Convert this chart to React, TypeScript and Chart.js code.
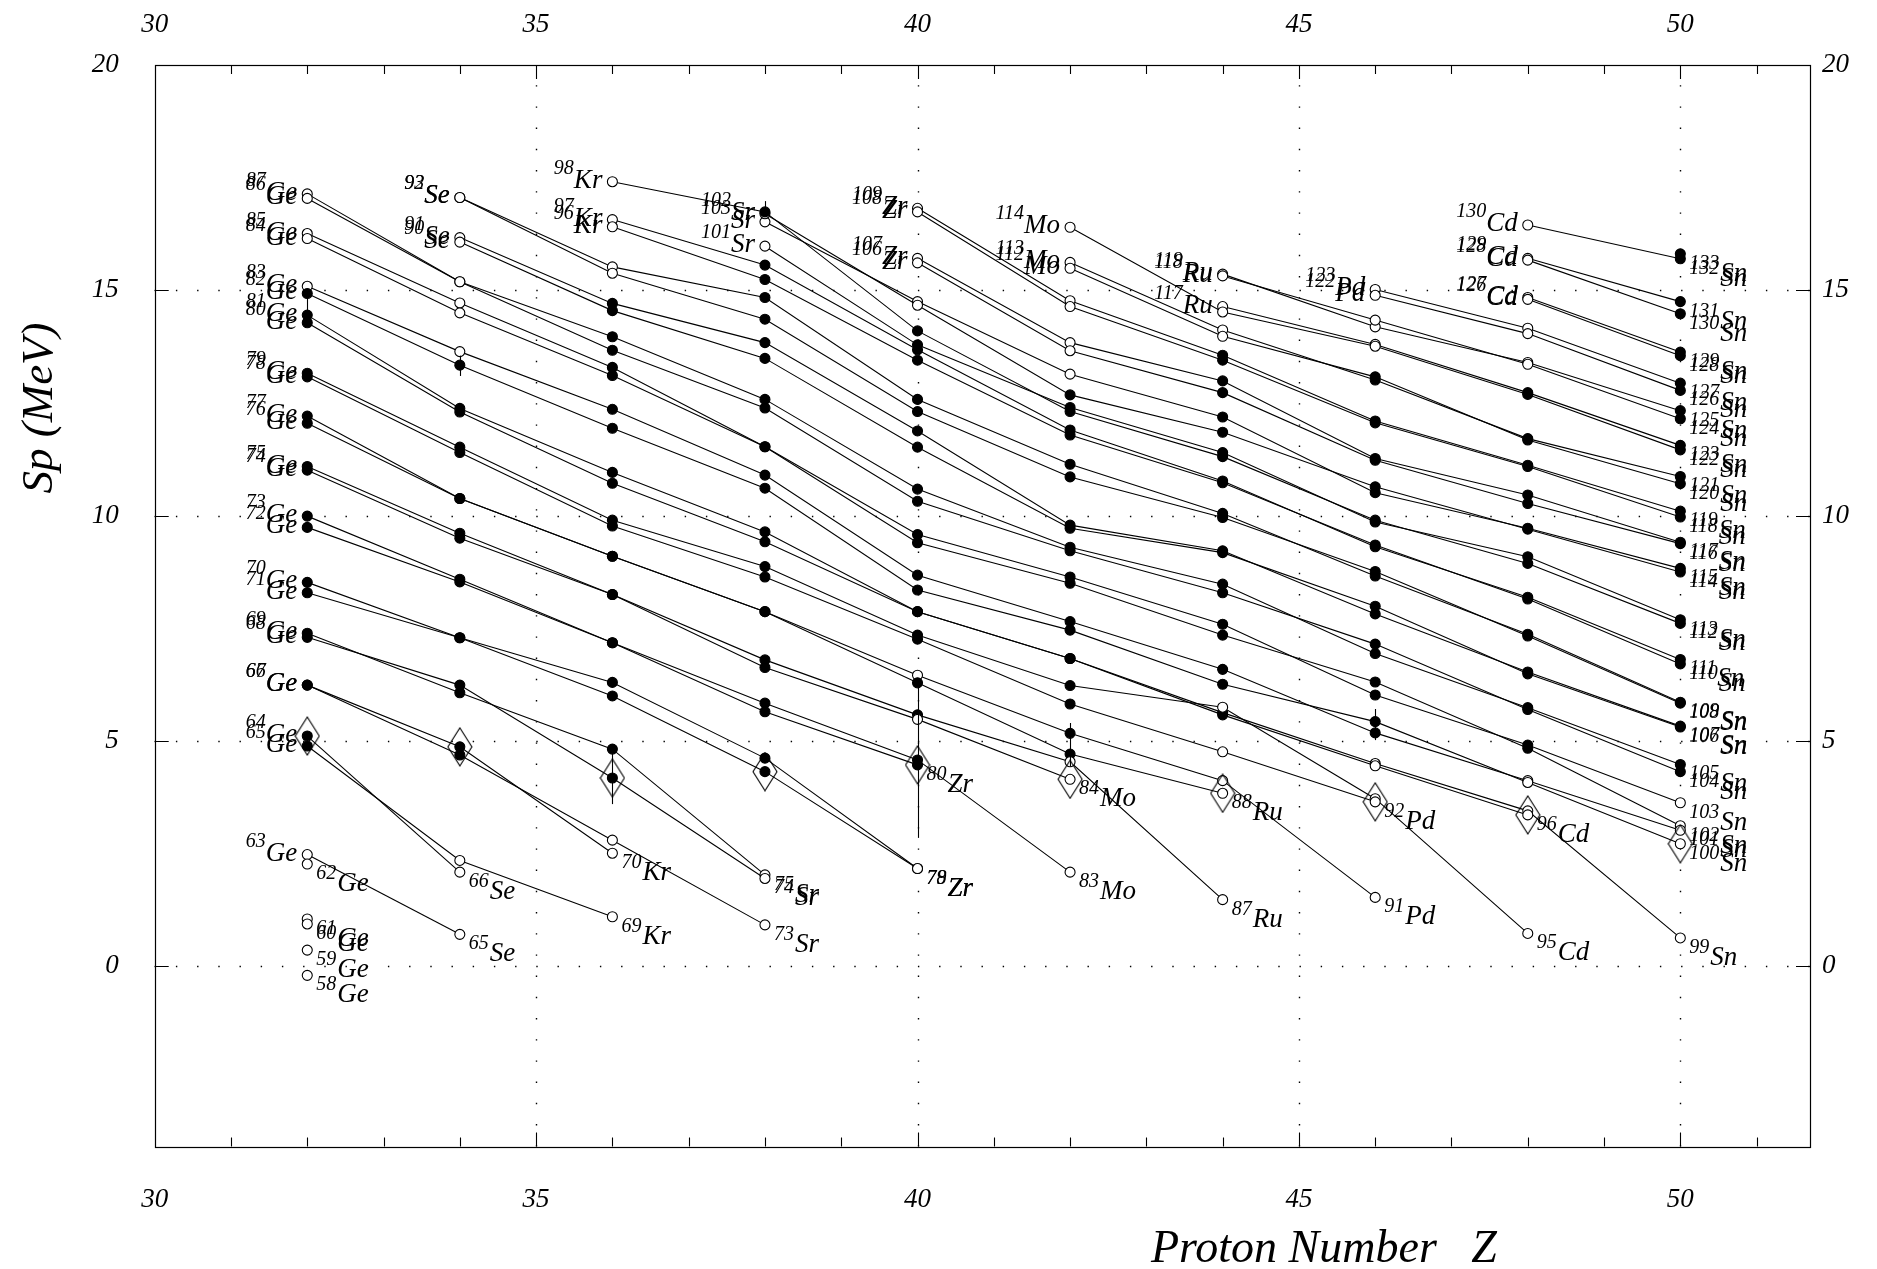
import React, { useEffect, useRef } from 'react';
import { Chart, registerables } from 'chart.js';
Chart.register(...registerables);

const W = 1877;
const H = 1269;

// ---------------- data ----------------
const Z_LIST = [32, 34, 36, 38, 40, 42, 44, 46, 48, 50];
const SYMBOLS = ['Ge', 'Se', 'Kr', 'Sr', 'Zr', 'Mo', 'Ru', 'Pd', 'Cd', 'Sn'];
const A_FIRST = [58, 65, 69, 73, 78, 83, 87, 91, 95, 99];

const SP_GE = [-0.20, 0.36, 0.94, 1.05, 2.27, 2.48, 5.11, 4.89, 6.24, 6.24, 7.30, 7.39, 8.52, 8.29, 9.74, 9.99, 11.01, 11.09, 12.05, 12.21, 13.08, 13.16, 14.28, 14.45, 14.93, 15.09, 16.15, 16.26, 17.04, 17.14];
const SP_SE = [0.71, 2.09, 2.35, 4.87, 4.69, 6.24, 6.07, 7.29, 7.29, 8.53, 8.59, 9.50, 9.61, 10.38, 10.38, 11.40, 11.52, 12.30, 12.38, 13.34, 13.64, 14.50, 14.72, 15.19, 15.19, 16.07, 16.17, 17.06, 17.06];
const SP_KR = [1.10, 2.51, 2.80, 4.18, 4.82, 6.00, 6.30, 7.18, 7.18, 8.25, 8.25, 9.10, 9.10, 9.77, 9.90, 10.72, 10.96, 11.94, 12.36, 13.11, 13.29, 13.67, 13.97, 14.55, 14.71, 15.38, 15.52, 16.41, 16.57, 17.41];
const SP_SR = [0.92, 1.95, 2.03, 4.32, 4.62, 5.65, 5.84, 6.63, 6.80, 7.87, 7.87, 8.64, 8.87, 9.42, 9.64, 10.61, 10.90, 11.53, 11.53, 12.39, 12.58, 13.49, 13.84, 14.36, 14.84, 15.24, 15.56, 16.74, 15.98, 16.70, 16.52];
const SP_ZR = [2.17, 2.17, 4.47, 4.58, 5.48, 5.58, 6.29, 6.46, 7.26, 7.35, 7.87, 7.87, 8.35, 8.68, 9.40, 9.58, 10.32, 10.59, 11.52, 11.88, 12.31, 12.58, 13.45, 13.68, 14.10, 13.79, 14.67, 14.75, 15.61, 15.71, 16.74, 16.82];
const SP_MO = [2.09, 4.15, 4.54, 4.71, 5.17, 5.82, 6.23, 6.83, 6.83, 7.46, 7.65, 8.50, 8.64, 9.22, 9.30, 9.72, 9.79, 10.86, 11.14, 11.79, 11.90, 12.31, 12.40, 12.68, 13.14, 13.66, 13.84, 14.64, 14.77, 15.49, 15.62, 16.40];
const SP_RU = [1.48, 3.84, 4.12, 4.76, 5.75, 5.58, 5.63, 6.26, 6.59, 7.35, 7.59, 8.29, 8.48, 9.18, 9.22, 9.96, 10.05, 10.73, 10.77, 11.31, 11.40, 11.85, 12.19, 12.73, 12.99, 13.45, 13.56, 13.98, 14.12, 14.52, 14.64, 15.32, 15.36];
const SP_PD = [1.53, 3.65, 3.72, 4.45, 4.50, 5.43, 5.18, 6.31, 6.02, 7.15, 6.94, 7.99, 7.82, 8.76, 8.66, 9.35, 9.31, 9.90, 9.86, 10.64, 10.51, 11.23, 11.27, 12.06, 12.10, 13.08, 13.01, 13.76, 13.80, 14.34, 14.19, 14.89, 15.02];
const SP_CD = [0.73, 3.36, 3.45, 4.08, 4.12, 4.84, 4.91, 5.70, 5.74, 6.49, 6.53, 7.33, 7.37, 8.15, 8.19, 8.94, 9.09, 9.70, 9.72, 10.27, 10.46, 11.09, 11.12, 11.68, 11.71, 12.69, 12.73, 13.36, 13.40, 14.04, 14.16, 14.80, 14.84, 15.67, 15.71, 16.45];
const SP_SN = [0.63, 2.72, 3.02, 3.12, 3.63, 4.32, 4.48, 5.31, 5.33, 5.84, 5.86, 6.71, 6.81, 7.61, 7.69, 8.75, 8.83, 9.38, 9.41, 9.97, 10.10, 10.71, 10.87, 11.46, 11.56, 12.15, 12.33, 12.78, 12.94, 13.55, 13.63, 14.48, 14.75, 15.70, 15.81];
const SP_ALL = [SP_GE, SP_SE, SP_KR, SP_SR, SP_ZR, SP_MO, SP_RU, SP_PD, SP_CD, SP_SN];

// mass numbers drawn with open circles (others filled)
const OPEN_GE = [58, 59, 60, 61, 62, 63, 83, 84, 85, 86, 87];
const OPEN_SE = [65, 66, 67, 85, 86, 87, 88, 89, 90, 91, 92, 93];
const OPEN_KR = [69, 70, 71, 94, 95, 96, 97, 98];
const OPEN_SR = [73, 74, 75, 101, 102, 103];
const OPEN_ZR = [78, 79, 82, 85, 104, 105, 106, 107, 108, 109];
const OPEN_MO = [83, 84, 85, 107, 108, 109, 110, 111, 112, 113, 114];
const OPEN_RU = [87, 88, 89, 90, 91, 114, 115, 116, 117, 118, 119];
const OPEN_PD = [91, 92, 93, 94, 95, 118, 119, 120, 121, 122, 123];
const OPEN_CD = [95, 96, 97, 98, 99, 122, 123, 124, 125, 126, 127, 128, 129, 130];
const OPEN_SN = [99, 100, 101, 102, 103];
const OPEN_ALL = [OPEN_GE, OPEN_SE, OPEN_KR, OPEN_SR, OPEN_ZR, OPEN_MO, OPEN_RU, OPEN_PD, OPEN_CD, OPEN_SN];

// nuclide labels: left of the point / right-below the point
const LEFT_LABELS = [
  [63, 64, 65, 66, 67, 68, 69, 70, 71, 72, 73, 74, 75, 76, 77, 78, 79, 80, 81, 82, 83, 84, 85, 86, 87],
  [90, 91, 92, 93],
  [96, 97, 98],
  [101, 102, 103],
  [106, 107, 108, 109],
  [112, 113, 114],
  [117, 118, 119],
  [122, 123],
  [126, 127, 128, 129, 130],
  [],
];
const RIGHT_LABELS = [
  [58, 59, 60, 61, 62],
  [65, 66],
  [69, 70],
  [73, 74, 75],
  [78, 79, 80],
  [83, 84],
  [87, 88],
  [91, 92],
  [95, 96],
  [99, 100, 101, 102, 103, 104, 105, 106, 107, 108, 109, 110, 111, 112, 113, 114, 115, 116, 117, 118, 119, 120, 121, 122, 123, 124, 125, 126, 127, 128, 129, 130, 131, 132, 133],
];

// error bars: [Z, low, high]
const ERROR_BARS = [
  [32, 14.45, 14.93],
  [34, 13.10, 13.55],
  [36, 3.60, 4.82],
  [38, 16.74, 16.98],
  [40, 2.85, 6.30],
  [42, 4.43, 5.40],
  [46, 5.02, 5.71],
];

const X_TICK_LABELS = [30, 35, 40, 45, 50];
const Y_TICK_LABELS = [0, 5, 10, 15, 20];
const X_MIN = 30;
const X_MAX = 51.7;
const Y_MIN = -4;
const Y_MAX = 20;

// ---------------- styling ----------------
const SERIF = '"Liberation Serif", "DejaVu Serif", serif';
const NUM_FONT = `italic 20px ${SERIF}`;
const SYM_FONT = `italic 27px ${SERIF}`;
const TICK_FONT = `italic 27px ${SERIF}`;
const YTITLE_FONT = `italic 45px ${SERIF}`;
const XTITLE_FONT = `italic 46px ${SERIF}`;

function makeDiamond(): HTMLCanvasElement {
  const c = document.createElement('canvas');
  const w = 26, h = 40;
  c.width = w; c.height = h;
  const g = c.getContext('2d')!;
  g.strokeStyle = '#000';
  g.lineWidth = 1.1;
  g.beginPath();
  g.moveTo(w / 2, 1);
  g.lineTo(w - 1, h / 2);
  g.lineTo(w / 2, h - 1);
  g.lineTo(1, h / 2);
  g.closePath();
  g.stroke();
  return c;
}

function spOf(i: number, A: number): number | null {
  const idx = A - A_FIRST[i];
  if (idx < 0 || idx >= SP_ALL[i].length) return null;
  return SP_ALL[i][idx];
}

function buildDatasets() {
  let nMin = 1e9, nMax = -1e9;
  Z_LIST.forEach((z, i) => {
    nMin = Math.min(nMin, A_FIRST[i] - z);
    nMax = Math.max(nMax, A_FIRST[i] + SP_ALL[i].length - 1 - z);
  });
  const sets: any[] = [];
  for (let N = nMin; N <= nMax; N++) {
    const pts: any[] = [];
    Z_LIST.forEach((z, i) => {
      const A = z + N;
      const sp = spOf(i, A);
      if (sp !== null) pts.push({ x: z, y: sp, open: OPEN_ALL[i].includes(A) });
    });
    if (!pts.length) continue;
    sets.push({
      type: 'line',
      data: pts,
      borderColor: '#000',
      borderWidth: 1.1,
      pointRadius: 5,
      pointHoverRadius: 5,
      pointBorderWidth: 1.1,
      pointBorderColor: '#000',
      pointBackgroundColor: (ctx: any) => (ctx.raw && ctx.raw.open ? '#fff' : '#000'),
      fill: false,
      tension: 0,
      order: N,
    });
  }
  const diamondPts = Z_LIST.map((z, i) => ({ x: z, y: spOf(i, 2 * z) as number }));
  sets.push({
    type: 'scatter',
    data: diamondPts,
    pointStyle: makeDiamond(),
    showLine: false,
    order: -100,
  });
  return sets;
}

function drawLabel(ctx: CanvasRenderingContext2D, px: number, py: number, A: number, sym: string, side: 'L' | 'R') {
  ctx.fillStyle = '#000';
  ctx.textBaseline = 'alphabetic';
  ctx.textAlign = 'left';
  const num = String(A);
  if (side === 'L') {
    ctx.font = SYM_FONT;
    const sw = ctx.measureText(sym).width;
    const sx = px - 10 - sw;
    ctx.fillText(sym, sx, py + 6);
    ctx.font = NUM_FONT;
    const nw = ctx.measureText(num).width;
    ctx.fillText(num, sx - nw, py - 8);
  } else {
    ctx.font = NUM_FONT;
    const nx = px + 9;
    ctx.fillText(num, nx, py + 15);
    const nw = ctx.measureText(num).width;
    ctx.font = SYM_FONT;
    ctx.fillText(sym, nx + nw + 1, py + 27);
  }
}

const framePlugin = {
  id: 'frame',
  beforeDatasetsDraw(chart: any) {
    const { ctx, chartArea: a, scales } = chart;
    const x = scales.x, y = scales.y;
    ctx.save();
    ctx.strokeStyle = '#000';
    // dotted grid
    ctx.lineWidth = 1.4;
    ctx.setLineDash([1.4, 19.8]);
    [35, 40, 45, 50].forEach((v) => {
      const px = Math.round(x.getPixelForValue(v)) + 0.5;
      ctx.beginPath(); ctx.moveTo(px, a.bottom); ctx.lineTo(px, a.top); ctx.stroke();
    });
    [0, 5, 10, 15].forEach((v) => {
      const py = Math.round(y.getPixelForValue(v)) + 0.5;
      ctx.beginPath(); ctx.moveTo(a.left, py); ctx.lineTo(a.right, py); ctx.stroke();
    });
    ctx.setLineDash([]);
    // border
    ctx.lineWidth = 1.2;
    ctx.strokeRect(Math.round(a.left) + 0.5, Math.round(a.top) + 0.5, Math.round(a.right - a.left), Math.round(a.bottom - a.top));
    // ticks
    ctx.lineWidth = 1.1;
    for (let v = 31; v <= 51; v++) {
      const px = Math.round(x.getPixelForValue(v)) + 0.5;
      const len = v % 5 === 0 ? 14 : 9;
      ctx.beginPath();
      ctx.moveTo(px, a.bottom); ctx.lineTo(px, a.bottom - len);
      ctx.moveTo(px, a.top); ctx.lineTo(px, a.top + len);
      ctx.stroke();
    }
    for (let v = -3; v <= 19; v++) {
      if (v % 5 !== 0) continue;
      const py = Math.round(y.getPixelForValue(v)) + 0.5;
      ctx.beginPath();
      ctx.moveTo(a.left, py); ctx.lineTo(a.left + 14, py);
      ctx.moveTo(a.right, py); ctx.lineTo(a.right - 14, py);
      ctx.stroke();
    }
    // tick labels
    ctx.fillStyle = '#000';
    ctx.font = TICK_FONT;
    ctx.textAlign = 'center';
    ctx.textBaseline = 'alphabetic';
    X_TICK_LABELS.forEach((v) => {
      const px = x.getPixelForValue(v);
      ctx.fillText(String(v), px, a.bottom + 60);
      ctx.fillText(String(v), px, 32);
    });
    ctx.textBaseline = 'middle';
    Y_TICK_LABELS.forEach((v) => {
      const py = y.getPixelForValue(v);
      ctx.textAlign = 'right';
      ctx.fillText(String(v), a.left - 36, py);
      ctx.textAlign = 'left';
      ctx.fillText(String(v), a.right + 12, py);
    });
    ctx.restore();
  },
  afterDatasetsDraw(chart: any) {
    const { ctx, scales } = chart;
    const x = scales.x, y = scales.y;
    ctx.save();
    // error bars
    ctx.strokeStyle = '#000';
    ctx.lineWidth = 1.1;
    ERROR_BARS.forEach(([z, lo, hi]) => {
      const px = Math.round(x.getPixelForValue(z)) + 0.5;
      ctx.beginPath();
      ctx.moveTo(px, y.getPixelForValue(lo));
      ctx.lineTo(px, y.getPixelForValue(hi));
      ctx.stroke();
    });
    // nuclide labels
    Z_LIST.forEach((z, i) => {
      const px = x.getPixelForValue(z);
      LEFT_LABELS[i].forEach((A) => {
        const sp = spOf(i, A);
        if (sp === null) return;
        drawLabel(ctx, px, y.getPixelForValue(sp), A, SYMBOLS[i], 'L');
      });
      RIGHT_LABELS[i].forEach((A) => {
        const sp = spOf(i, A);
        if (sp === null) return;
        drawLabel(ctx, px, y.getPixelForValue(sp), A, SYMBOLS[i], 'R');
      });
    });
    // axis titles
    ctx.fillStyle = '#000';
    ctx.font = YTITLE_FONT;
    ctx.textBaseline = 'middle';
    ctx.textAlign = 'center';
    ctx.save();
    ctx.translate(40, 408);
    ctx.rotate(-Math.PI / 2);
    ctx.fillText('Sp (MeV)', 0, 0);
    ctx.restore();
    ctx.font = XTITLE_FONT;
    ctx.textAlign = 'left';
    ctx.textBaseline = 'alphabetic';
    ctx.fillText('Proton Number   Z', 1151, 1262);
    ctx.restore();
  },
};

export default function App() {
  const ref = useRef<HTMLCanvasElement | null>(null);
  useEffect(() => {
    if (!ref.current) return;
    const chart = new Chart(ref.current, {
      type: 'line',
      data: { datasets: buildDatasets() as any },
      options: {
        animation: false,
        responsive: false,
        devicePixelRatio: 1,
        layout: { padding: { left: 154.7, right: W - 1810, top: 65, bottom: H - 1146.6 } },
        plugins: { legend: { display: false }, tooltip: { enabled: false } },
        events: [],
        scales: {
          x: { type: 'linear', min: X_MIN, max: X_MAX, display: false },
          y: { type: 'linear', min: Y_MIN, max: Y_MAX, display: false },
        },
      },
      plugins: [framePlugin],
    } as any);
    return () => chart.destroy();
  }, []);
  return (
    <div style={{ position: 'fixed', left: 0, top: 0, width: W, height: H, background: '#fff' }}>
      <canvas ref={ref} width={W} height={H} style={{ display: 'block', width: W, height: H }} />
    </div>
  );
}
